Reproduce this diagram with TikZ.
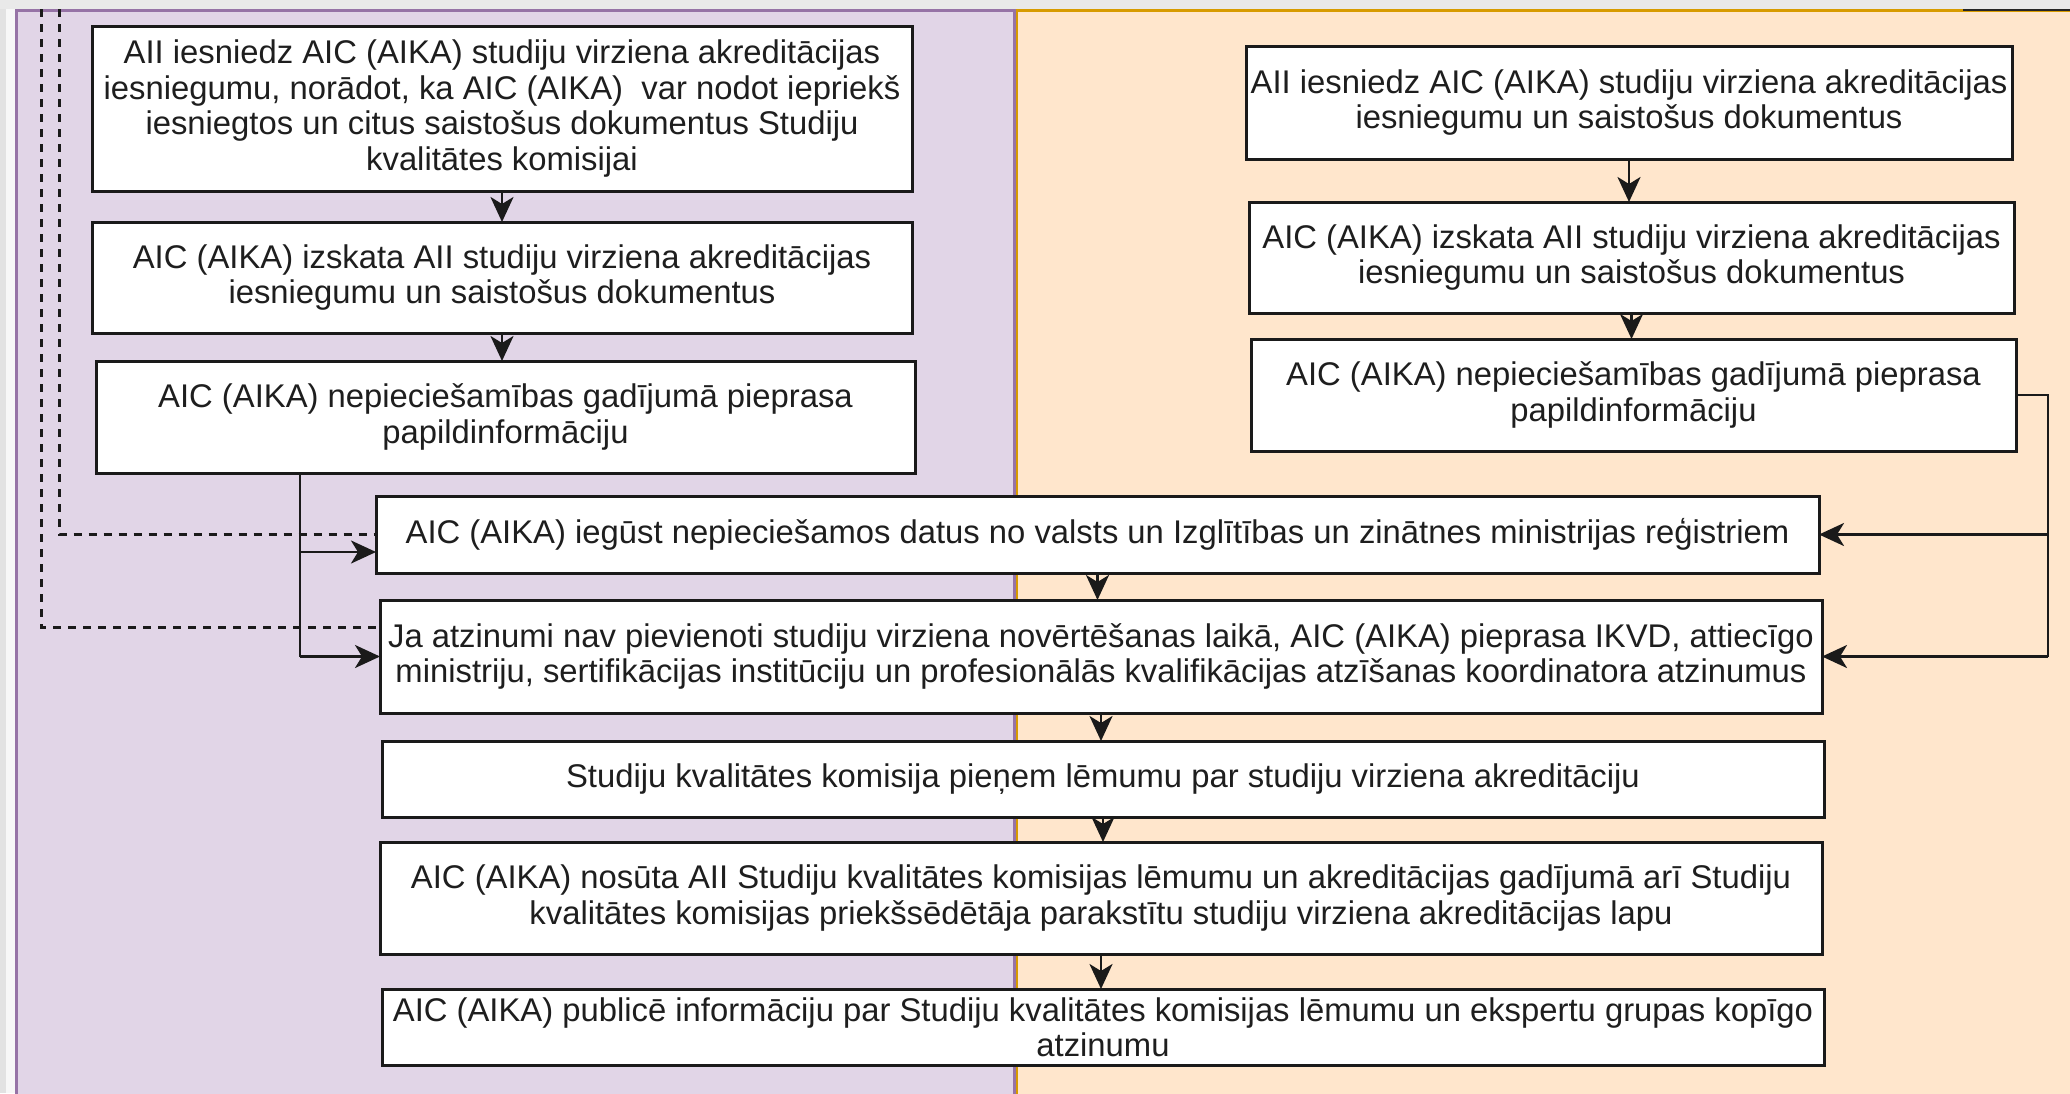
\documentclass[tikz,border=0pt]{standalone}
\usepackage{fontspec}
\setmainfont{Liberation Sans}
\usetikzlibrary{arrows.meta}
\definecolor{lanepurple}{HTML}{E1D5E7}
\definecolor{purpleline}{HTML}{9673A6}
\definecolor{lanepeach}{HTML}{FFE6CC}
\definecolor{peachline}{HTML}{D79B00}
\definecolor{topband}{HTML}{E9E9E9}
\definecolor{sidegray}{HTML}{E2E2E2}
\definecolor{sidewhite}{HTML}{F7F7F7}
\definecolor{boxline}{HTML}{1A1A1A}
\definecolor{txt}{HTML}{1E1E1E}
\begin{document}
\begin{tikzpicture}[x=1pt,y=-1pt,
  box/.style={draw=boxline, line width=3pt, fill=white, inner sep=0pt, outer sep=0pt,
    align=center, text=txt, font=\fontsize{32.8}{35.4}\selectfont},
  conn/.style={line width=2.8pt, draw=boxline},
  arr/.style={conn, -{Stealth[length=25pt,width=23pt,inset=7pt]}},
  dsh/.style={line width=3pt, draw=boxline, dash pattern=on 8pt off 7pt}]
\useasboundingbox (0,0) rectangle (2070,1093);
\begin{scope}
\clip (0,0) rectangle (2070,1093);
% side strip
\fill[sidegray] (0,0) rectangle (6,1093);
\fill[sidewhite] (6,0) rectangle (15,1093);
% lanes
\draw[fill=lanepeach, draw=peachline, line width=3pt] (1016,10.5) rectangle (2080,1100);
\draw[fill=lanepurple, draw=purpleline, line width=3pt] (16.5,10.5) rectangle (1014.5,1100);
% top band
\fill[topband] (0,0) rectangle (2070,9);
\draw[line width=2pt, draw=black!85] (1963,9.5) -- (2070,9.5);
\end{scope}

% left column
\node[box, minimum width=820pt, minimum height=165pt] (L1) at (502,108.5)
  {AII iesniedz AIC (AIKA) studiju virziena akreditācijas\\iesniegumu, norādot, ka AIC (AIKA)\ \ var nodot iepriekš\\iesniegtos un citus saistošus dokumentus Studiju\\kvalitātes komisijai};
\node[box, minimum width=820pt, minimum height=111pt] (L2) at (502,277.5)
  {AIC (AIKA) izskata AII studiju virziena akreditācijas\\iesniegumu un saistošus dokumentus};
\node[box, minimum width=819pt, minimum height=112pt] (L3) at (505.5,417)
  {AIC (AIKA) nepieciešamības gadījumā pieprasa\\papildinformāciju};

% right column
\node[box, minimum width=766pt, minimum height=113pt] (R1) at (1629,102.5)
  {AII iesniedz AIC (AIKA) studiju virziena akreditācijas\\iesniegumu un saistošus dokumentus};
\node[box, minimum width=765pt, minimum height=111pt] (R2) at (1631.5,257.5)
  {AIC (AIKA) izskata AII studiju virziena akreditācijas\\iesniegumu un saistošus dokumentus};
\node[box, minimum width=765pt, minimum height=112pt] (R3) at (1633.5,395)
  {AIC (AIKA) nepieciešamības gadījumā pieprasa\\papildinformāciju};

% middle column
\node[box, minimum width=1443pt, minimum height=77pt] (M1) at (1097.5,534.5)
  {AIC (AIKA) iegūst nepieciešamos datus no valsts un Izglītības un zinātnes ministrijas reģistriem};
\node[box, minimum width=1442pt, minimum height=113pt] (M2) at (1101,656.5)
  {Ja atzinumi nav pievienoti studiju virziena novērtēšanas laikā, AIC (AIKA) pieprasa IKVD, attiecīgo\\ministriju, sertifikācijas institūciju un profesionālās kvalifikācijas atzīšanas koordinatora atzinumus};
\node[box, minimum width=1442pt, minimum height=76pt] (M3) at (1103,779)
  {Studiju kvalitātes komisija pieņem lēmumu par studiju virziena akreditāciju};
\node[box, minimum width=1442pt, minimum height=112pt] (M4) at (1101,898)
  {AIC (AIKA) nosūta AII Studiju kvalitātes komisijas lēmumu un akreditācijas gadījumā arī Studiju\\kvalitātes komisijas priekšsēdētāja parakstītu studiju virziena akreditācijas lapu};
\node[box, minimum width=1442pt, minimum height=76pt] (M5) at (1103,1027)
  {AIC (AIKA) publicē informāciju par Studiju kvalitātes komisijas lēmumu un ekspertu grupas kopīgo\\atzinumu};

% vertical flow arrows
\draw[arr] (L1.south) -- (L1.south |- L2.north);
\draw[arr] (L2.south) -- (L2.south |- L3.north);
\draw[arr] (R1.south) -- (R1.south |- R2.north);
\draw[arr] (R2.south) -- (R2.south |- R3.north);
\draw[arr] (M1.south) -- (M1.south |- M2.north);
\draw[arr] (M2.south) -- (M2.south |- M3.north);
\draw[arr] (M3.south) -- (M3.south |- M4.north);
\draw[arr] (M4.south) -- (M4.south |- M5.north);

% left junction from L3
\coordinate (jx) at (300,0);
\coordinate (j1) at (300,552);
\draw[conn] (L3.south -| jx) -- (jx |- M2.west);
\draw[arr] (jx |- M2.west) -- (M2.west);
\draw[arr] (j1) -- (j1 -| M1.west);

% dashed lines from above
\coordinate (d1) at (59,9);
\coordinate (d2) at (41,9);
\coordinate (d2b) at (41,627);
\draw[dsh] (d1) -- (d1 |- M1.west) -- (M1.west);
\draw[dsh] (d2) -- (d2b) -- (d2b -| M2.west);

% right junction from R3
\coordinate (rx) at (2048,0);
\draw[conn] (R3.east) -- (R3.east -| rx) -- (rx |- M2.east);
\draw[arr] (rx |- M2.east) -- (M2.east);
\draw[arr] (rx |- M1.east) -- (M1.east);
\end{tikzpicture}
\end{document}
